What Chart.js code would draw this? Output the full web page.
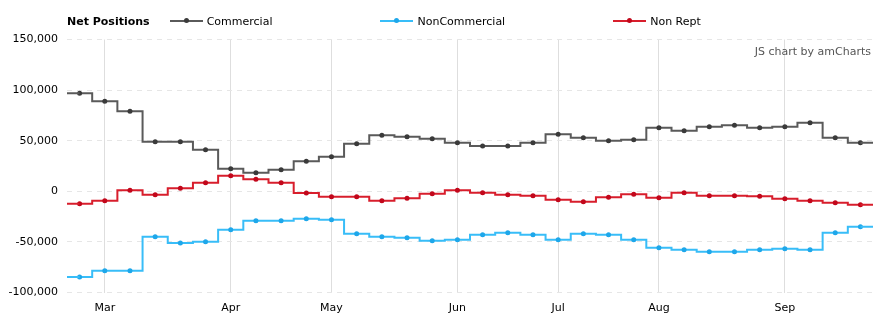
<!DOCTYPE html>
<html>
<head>
<meta charset="utf-8">
<script src="https://cdn.jsdelivr.net/npm/chart.js@4/dist/chart.umd.min.js"></script>
<style>
    html, body { margin: 0; padding: 0; background: #fff; }
    #wrap { position: relative; width: 888px; height: 326px; font-family: "DejaVu Sans", Verdana, sans-serif; font-size: 11px; color: #000; }
    #legend { position: absolute; left: 67px; top: 14px; display: flex; align-items: center; height: 14px; white-space: nowrap; }
    #legend .title { font-weight: bold; margin-right: 20px; }
    #legend .item { display: flex; align-items: center; margin-right: 108px; }
    #legend .marker { position: relative; width: 33px; height: 2px; margin-right: 4px; }
    #legend .marker i { position: absolute; left: 14px; top: -2px; width: 5px; height: 5px; border-radius: 50%; }
    #credit { position: absolute; right: 17px; top: 45px; color: #555; }
    canvas { position: absolute; left: 0; top: 0; }
</style>
</head>
<body>
<div id="wrap">
    <canvas id="cot-chart" width="888" height="326"></canvas>
    <div id="legend"><span class="title">Net Positions</span></div>
    <div id="credit">JS chart by amCharts</div>
</div>
<script>
// weekly report dates (Tuesdays)
const dates = [
    '2016-02-23', '2016-03-01', '2016-03-08', '2016-03-15', '2016-03-22', '2016-03-29',
    '2016-04-05', '2016-04-12', '2016-04-19', '2016-04-26',
    '2016-05-03', '2016-05-10', '2016-05-17', '2016-05-24', '2016-05-31',
    '2016-06-07', '2016-06-14', '2016-06-21', '2016-06-28',
    '2016-07-05', '2016-07-12', '2016-07-19', '2016-07-26',
    '2016-08-02', '2016-08-09', '2016-08-16', '2016-08-23', '2016-08-30',
    '2016-09-06', '2016-09-13', '2016-09-20', '2016-09-27'
];
const commercial = [
    97000, 89000, 79000, 49000, 49000, 41000, 22300, 18400, 21300, 29600,
    34200, 47000, 55300, 53900, 52000, 48000, 44800, 44800, 48000, 56300,
    53000, 50000, 51000, 62800, 59900, 63800, 65200, 62800, 63800, 67800,
    53000, 48000
];
const nonCommercial = [
    -84700, -78400, -78400, -44900, -51100, -49800, -37900, -29000, -29000, -27100,
    -28100, -41900, -44900, -45800, -48800, -47800, -42900, -40900, -42900, -47800,
    -41900, -42900, -47800, -55700, -57700, -59700, -59700, -57700, -56700, -57700,
    -40900, -35000
];
const nonRept = [
    -12300, -9300, 1000, -3400, 3000, 8500, 15400, 11900, 8500, -1800,
    -5300, -5300, -9300, -6900, -2400, 1000, -1400, -3400, -4300, -8300,
    -10300, -5900, -3000, -6300, -1400, -4300, -4300, -4900, -7300, -9300,
    -11300, -13200
];
const yTicks = [-100000, -50000, 0, 50000, 100000, 150000];
const monthNames = ['Jan', 'Feb', 'Mar', 'Apr', 'May', 'Jun', 'Jul', 'Aug', 'Sep', 'Oct', 'Nov', 'Dec'];

const series = [
    { label: 'Commercial', data: commercial, line: '#5a5a5a', dot: '#3a3a3a' },
    { label: 'NonCommercial', data: nonCommercial, line: '#38bdf8', dot: '#1ea7ea' },
    { label: 'Non Rept', data: nonRept, line: '#d81e2c', dot: '#c2071b' }
];

const monthOf = (i) => parseInt(dates[i].slice(5, 7), 10) - 1;
const isMonthStart = (i) => i > 0 && monthOf(i) !== monthOf(i - 1);

// amCharts draws the first/last half step out to the plot edges
const edgeSteps = {
    id: 'edgeSteps',
    afterDatasetsDraw(chart) {
        const { ctx, chartArea } = chart;
        chart.data.datasets.forEach((ds, di) => {
            const pts = chart.getDatasetMeta(di).data;
            if (!pts.length) return;
            const first = pts[0], last = pts[pts.length - 1];
            ctx.save();
            ctx.strokeStyle = ds.borderColor;
            ctx.lineWidth = ds.borderWidth;
            ctx.beginPath();
            ctx.moveTo(chartArea.left, first.y);
            ctx.lineTo(first.x, first.y);
            ctx.moveTo(last.x, last.y);
            ctx.lineTo(chartArea.right, last.y);
            ctx.stroke();
            ctx.restore();
        });
    }
};

Chart.defaults.font.family = '"DejaVu Sans", Verdana, sans-serif';
Chart.defaults.font.size = 11;
Chart.defaults.color = '#000';

new Chart(document.getElementById('cot-chart').getContext('2d'), {
    type: 'line',
    data: {
        labels: dates,
        datasets: series.map(s => ({
            label: s.label,
            data: s.data,
            borderColor: s.line,
            backgroundColor: s.dot,
            pointBackgroundColor: s.dot,
            pointBorderWidth: 0,
            pointRadius: 2.5,
            borderWidth: 2,
            stepped: 'middle',
            fill: false
        }))
    },
    options: {
        responsive: false,
        animation: false,
        devicePixelRatio: 1,
        layout: { padding: { left: 0, right: 15, top: 39.5, bottom: 0 } },
        plugins: { legend: { display: false }, tooltip: { enabled: false } },
        scales: {
            x: {
                type: 'category',
                offset: true,
                border: { display: false },
                grid: {
                    offset: false,
                    drawTicks: false,
                    color: (c) => isMonthStart(c.index) ? '#dedede' : 'rgba(0,0,0,0)'
                },
                ticks: {
                    autoSkip: false,
                    maxRotation: 0,
                    padding: 9,
                    callback: (v, i) => isMonthStart(i) ? monthNames[monthOf(i)] : ''
                },
                afterFit: (s) => { s.height = 33.5; }
            },
            y: {
                min: yTicks[0],
                max: yTicks[yTicks.length - 1],
                border: { display: false, dash: [5, 5] },
                afterBuildTicks: (s) => { s.ticks = yTicks.map(v => ({ value: v })); },
                grid: { color: '#e6e6e6', drawTicks: false },
                ticks: {
                    padding: 9,
                    callback: (v) => v.toLocaleString('en-US')
                },
                afterFit: (s) => { s.width = 67; }
            }
        }
    },
    plugins: [edgeSteps]
});

// legend built from the series
const legend = document.getElementById('legend');
series.forEach(s => {
    const item = document.createElement('span');
    item.className = 'item';
    item.innerHTML = `<span class="marker" style="background:${s.line}"><i style="background:${s.dot}"></i></span><span>${s.label}</span>`;
    legend.appendChild(item);
});
</script>
</body>
</html>
